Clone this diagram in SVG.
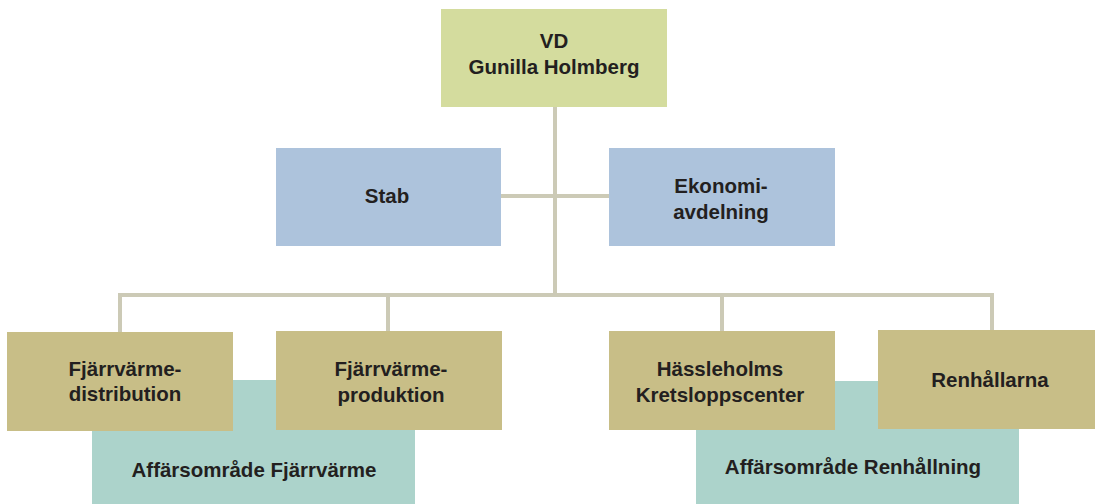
<svg xmlns="http://www.w3.org/2000/svg" width="1095" height="504" viewBox="0 0 1095 504">
<style>
.t{font-family:"Liberation Sans",Arial,sans-serif;font-weight:bold;font-size:20.5px;fill:#231f20;text-anchor:middle}
.c{stroke:#cccab6;stroke-width:4;fill:none}
.vd{fill:#d4dc9e}
.bl{fill:#adc3dc}
.kh{fill:#c8be87}
.te{fill:#acd3cb}
</style>
<rect width="1095" height="504" fill="#ffffff"/>
<g id="connectors">
<path class="c" d="M555 107V295"/>
<path class="c" d="M501 196H609"/>
<path class="c" d="M120 333V295H992V333"/>
<path class="c" d="M388 295V333"/>
<path class="c" d="M722 295V333"/>
</g>
<g id="vd"><rect class="vd" x="441" y="9" width="226" height="98"/><text class="t" x="554" y="48">VD</text><text class="t" x="554" y="74">Gunilla Holmberg</text></g>
<g id="stab"><rect class="bl" x="276" y="148" width="225" height="98"/><text class="t" x="387" y="203">Stab</text></g>
<g id="ekonomi"><rect class="bl" x="609" y="148" width="226" height="98"/><text class="t" x="721" y="193">Ekonomi-</text><text class="t" x="721" y="219">avdelning</text></g>
<g id="affarsomrade-fjarrvarme"><rect class="te" x="92" y="380" width="323" height="124"/><text class="t" x="254" y="477">Affärsområde Fjärrvärme</text></g>
<g id="affarsomrade-renhallning"><rect class="te" x="696" y="381" width="323" height="123"/><text class="t" x="853" y="474">Affärsområde Renhållning</text></g>
<g id="fjarrvarme-distribution"><rect class="kh" x="7" y="332" width="226" height="99"/><text class="t" x="125" y="376">Fjärrvärme-</text><text class="t" x="125" y="401">distribution</text></g>
<g id="fjarrvarme-produktion"><rect class="kh" x="276" y="331" width="226" height="99"/><text class="t" x="391" y="376">Fjärrvärme-</text><text class="t" x="391" y="402">produktion</text></g>
<g id="hassleholms"><rect class="kh" x="609" y="331" width="226" height="99"/><text class="t" x="720" y="376">Hässleholms</text><text class="t" x="720" y="402">Kretsloppscenter</text></g>
<g id="renhallarna"><rect class="kh" x="878" y="330" width="217" height="99"/><text class="t" x="990" y="387">Renhållarna</text></g>
</svg>
